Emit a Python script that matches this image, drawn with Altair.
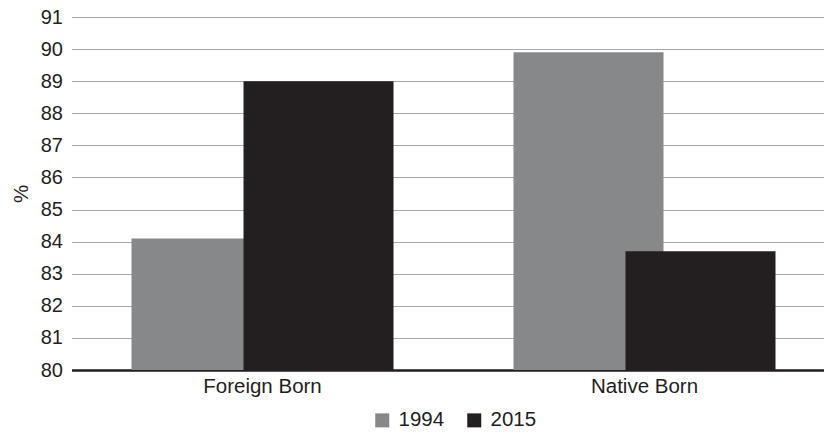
import altair as alt
import pandas as pd

categories = ["Foreign Born", "Native Born"]
years = ["1994", "2015"]
values_1994 = [84.1, 89.9]
values_2015 = [89.0, 83.7]
y_ticks = list(range(80, 92))

rows = []
for c, v in zip(categories, values_1994):
    rows.append({"group": c, "year": "1994", "pct": v})
for c, v in zip(categories, values_2015):
    rows.append({"group": c, "year": "2015", "pct": v})
df = pd.DataFrame(rows)

FONT = "Liberation Sans"
TXT = "#231f20"
FS = 20.5

color = alt.Color(
    "year:N",
    scale=alt.Scale(domain=years, range=["#87888a", "#231f20"]),
    legend=alt.Legend(
        title=None,
        orient="none",
        direction="horizontal",
        legendX=300.5,
        legendY=393,
        symbolType="square",
        symbolSize=196,
        symbolStrokeWidth=0,
        labelFontSize=FS,
        labelFont=FONT,
        labelColor=TXT,
        labelOffset=6,
        columnPadding=19,
        padding=0,
    ),
)

x = alt.X(
    "group:N",
    sort=categories,
    scale=alt.Scale(paddingInner=0, paddingOuter=0, range=[0, 764]),
    axis=alt.Axis(
        title=None,
        labelAngle=0,
        ticks=False,
        grid=False,
        domainColor=TXT,
        domainWidth=2.5,
        labelFontSize=FS,
        labelFont=FONT,
        labelColor=TXT,
        labelPadding=6,
    ),
)

y = alt.Y(
    "pct:Q",
    scale=alt.Scale(domain=[80, 91], zero=False, nice=False),
    axis=alt.Axis(
        title="%",
        values=y_ticks,
        ticks=False,
        domain=False,
        grid=True,
        gridColor="#a7a9ac",
        gridWidth=1,
        labelFontSize=20,
        labelFont=FONT,
        labelColor=TXT,
        labelPadding=9,
        titleFontSize=FS,
        titleFont=FONT,
        titleColor=TXT,
        titleFontWeight="normal",
        titlePadding=9,
    ),
)

base = alt.Chart(df)
b1994 = base.transform_filter(alt.datum.year == "1994").mark_bar(
    width=150, xOffset=-56, clip=True
).encode(x=x, y=y, color=color)
b2015 = base.transform_filter(alt.datum.year == "2015").mark_bar(
    width=150, xOffset=56, clip=True
).encode(x=x, y=y, color=color)

chart = (
    alt.layer(b1994, b2015)
    .properties(
        width=752.5,
        height=353,
        autosize=alt.AutoSizeParams(type="none"),
        padding={"left": 63.5, "top": 9, "right": 0, "bottom": 60},
    )
    .configure_view(stroke=None)
)

chart.save("out.html", embed_options={"renderer": "svg", "actions": False})
